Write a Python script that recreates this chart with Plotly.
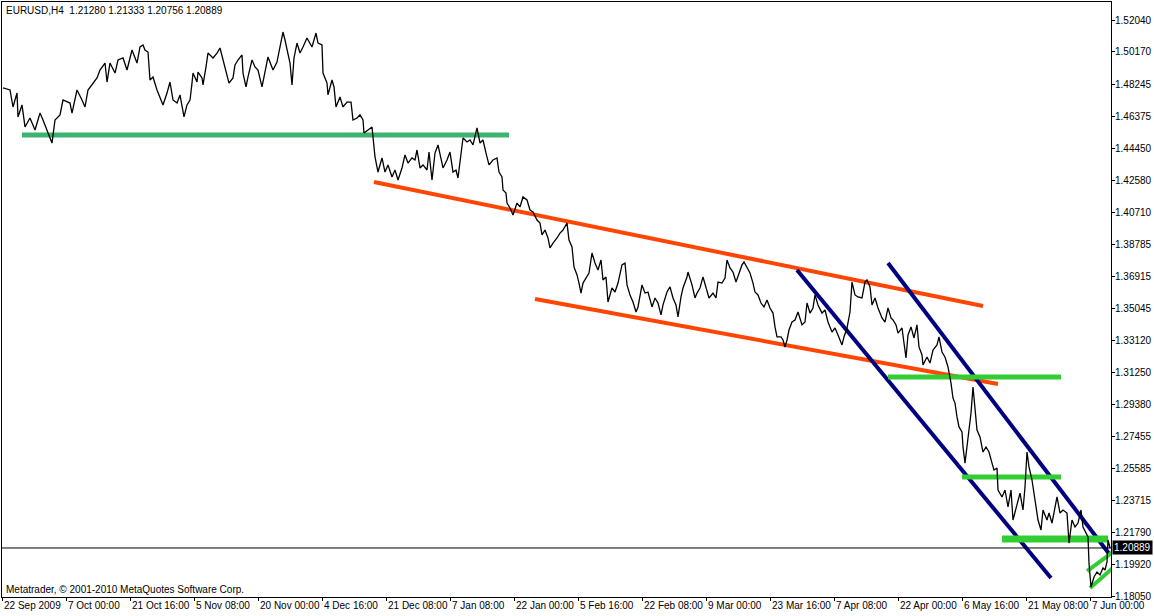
import plotly.graph_objects as go

# ---- price series (H4 closes, bar index along the time axis) ----
bars_a = [3, 8, 10, 13, 17, 18, 22, 25, 30, 35, 40, 43, 48, 52, 55, 60, 63, 70, 72, 77, 82, 85, 88, 93, 97, 100,
          105, 107, 110, 115, 118, 123, 127, 132, 135, 137, 140, 143, 145, 148, 150, 153, 157, 160, 163, 167, 170,
          173, 177, 180, 184]
close_a = [1.4803, 1.4797, 1.4791, 1.4691, 1.4773, 1.4632, 1.4703, 1.4573, 1.4626, 1.4555, 1.4655, 1.4614, 1.4543,
           1.4478, 1.4614, 1.4644, 1.4732, 1.4714, 1.4655, 1.4791, 1.4732, 1.4691, 1.4791, 1.4832, 1.4862, 1.4909,
           1.4950, 1.4838, 1.4950, 1.4891, 1.4968, 1.4980, 1.4909, 1.5027, 1.4986, 1.4950, 1.5045, 1.5057, 1.5027,
           1.5015, 1.4850, 1.4868, 1.4791, 1.4750, 1.4703, 1.4773, 1.4838, 1.4732, 1.4714, 1.4762, 1.4632]

bars_b = [187, 190, 192, 193, 197, 198, 202, 203, 206, 208, 213, 217, 220, 223, 227, 229, 233, 235, 238, 242, 243,
          246, 248, 252, 255, 258, 262, 265, 268, 273, 277, 280, 283, 285, 287, 290, 292, 294, 297, 300, 303, 307,
          312, 316, 318, 322, 323, 327, 328, 332, 334, 336, 340, 343, 347, 351, 353, 357, 360, 363, 364, 368, 372]
close_b = [1.4703, 1.4732, 1.4832, 1.4891, 1.4838, 1.4897, 1.4862, 1.4821, 1.4927, 1.5009, 1.4980, 1.5009, 1.5039,
           1.4968, 1.4891, 1.4832, 1.4862, 1.4939, 1.4968, 1.4998, 1.4891, 1.4809, 1.4868, 1.4968, 1.4927, 1.4909,
           1.4809, 1.4897, 1.4986, 1.4909, 1.4956, 1.5045, 1.5133, 1.5086, 1.5027, 1.4950, 1.4821, 1.4980, 1.5068,
           1.5009, 1.5045, 1.5098, 1.5045, 1.5127, 1.5068, 1.5057, 1.4891, 1.4832, 1.4762, 1.4850, 1.4809, 1.4691,
           1.4750, 1.4691, 1.4720, 1.4720, 1.4614, 1.4626, 1.4644, 1.4614, 1.4537, 1.4555, 1.4573]

bars_c = [375, 378, 382, 385, 388, 392, 395, 398, 402, 405, 408, 412, 415, 417, 420, 423, 427, 429, 432, 435, 438,
          441, 443, 447, 450, 453, 456, 458, 461, 463, 467, 470, 473, 477, 480, 483, 486, 489, 493, 497, 499, 502,
          503, 506, 507, 510, 513, 517, 520, 523, 527, 530, 533, 537, 540, 542, 545, 548, 550, 553, 557, 560, 563,
          567, 569, 572, 574, 577, 579, 581, 583, 587, 589, 592, 595, 598, 601]
close_c = [1.4396, 1.4307, 1.4390, 1.4307, 1.4349, 1.4278, 1.4319, 1.4260, 1.4331, 1.4408, 1.4360, 1.4390, 1.4378,
           1.4437, 1.4331, 1.4349, 1.4319, 1.4425, 1.4260, 1.4419, 1.4467, 1.4396, 1.4331, 1.4378, 1.4425, 1.4307,
           1.4319, 1.4272, 1.4419, 1.4508, 1.4484, 1.4496, 1.4467, 1.4567, 1.4478, 1.4496, 1.4419, 1.4349, 1.4378,
           1.4390, 1.4307, 1.4278, 1.4201, 1.4183, 1.4124, 1.4095, 1.4054, 1.4124, 1.4101, 1.4160, 1.4142, 1.4083,
           1.4071, 1.4024, 1.4006, 1.3936, 1.3965, 1.3918, 1.3859, 1.3888, 1.3918, 1.3947, 1.3965, 1.4006, 1.3906,
           1.3865, 1.3747, 1.3700, 1.3652, 1.3593, 1.3652, 1.3688, 1.3711, 1.3829, 1.3770, 1.3729, 1.3788]

bars_d = [603, 606, 608, 612, 615, 618, 622, 625, 627, 630, 633, 636, 638, 642, 645, 648, 652, 655, 658, 661, 663,
          667, 670, 673, 676, 678, 681, 683, 687, 688, 692, 695, 697, 700, 703, 706, 709, 713, 716, 718, 722, 725,
          727, 730, 733, 736, 739, 742, 744, 747, 750, 753, 755, 758, 761, 764, 767, 770, 773, 775, 777, 781, 783,
          785, 787, 789, 792, 795, 798]
close_d = [1.3670, 1.3688, 1.3540, 1.3623, 1.3599, 1.3652, 1.3759, 1.3770, 1.3641, 1.3582, 1.3540, 1.3481, 1.3511,
           1.3641, 1.3593, 1.3599, 1.3511, 1.3564, 1.3534, 1.3464, 1.3523, 1.3599, 1.3629, 1.3564, 1.3523, 1.3452,
           1.3570, 1.3623, 1.3688, 1.3717, 1.3641, 1.3564, 1.3593, 1.3623, 1.3688, 1.3629, 1.3564, 1.3593, 1.3564,
           1.3658, 1.3652, 1.3682, 1.3788, 1.3741, 1.3717, 1.3658, 1.3711, 1.3759, 1.3776, 1.3747, 1.3711, 1.3652,
           1.3599, 1.3582, 1.3534, 1.3511, 1.3552, 1.3505, 1.3475, 1.3393, 1.3334, 1.3334, 1.3316, 1.3275, 1.3316,
           1.3375, 1.3422, 1.3434, 1.3481]

bars_e = [802, 805, 807, 810, 813, 815, 818, 822, 825, 828, 832, 835, 838, 842, 844, 847, 850, 852, 855, 858, 862,
          865, 867, 870, 872, 875, 878, 882, 885, 888, 891, 893, 896, 898, 902, 904, 906, 908, 911, 914, 917, 919,
          922, 923, 927, 930, 933, 937, 939, 942, 945, 948]
close_e = [1.3405, 1.3422, 1.3534, 1.3475, 1.3505, 1.3582, 1.3523, 1.3475, 1.3493, 1.3422, 1.3363, 1.3387, 1.3346,
           1.3287, 1.3334, 1.3387, 1.3481, 1.3658, 1.3582, 1.3570, 1.3564, 1.3658, 1.3670, 1.3629, 1.3523, 1.3564,
           1.3505, 1.3446, 1.3422, 1.3505, 1.3446, 1.3434, 1.3405, 1.3357, 1.3387, 1.3304, 1.3210, 1.3346, 1.3393,
           1.3328, 1.3405, 1.3275, 1.3228, 1.3169, 1.3216, 1.3180, 1.3257, 1.3287, 1.3334, 1.3245, 1.3216, 1.3157]

bars_f = [951, 953, 955, 957, 959, 962, 963, 965, 967, 968, 971, 973, 975, 977, 980, 983, 986, 989, 992, 994, 997,
          998, 1002, 1005, 1008, 1011, 1013, 1017, 1020, 1023, 1025, 1027, 1029, 1032, 1033, 1036, 1038, 1041, 1043,
          1047, 1049, 1052, 1055, 1057, 1060, 1063, 1067, 1069, 1072, 1075, 1078, 1081, 1083, 1086, 1088, 1089,
          1091, 1094, 1097, 1100, 1103, 1105, 1107, 1108, 1110]
close_f = [1.3062, 1.2974, 1.2944, 1.2862, 1.2803, 1.2773, 1.2685, 1.2590, 1.2685, 1.2767, 1.2885, 1.3039, 1.2903,
           1.2785, 1.2744, 1.2655, 1.2685, 1.2655, 1.2590, 1.2549, 1.2561, 1.2431, 1.2390, 1.2431, 1.2331, 1.2431,
           1.2254, 1.2354, 1.2413, 1.2313, 1.2449, 1.2655, 1.2567, 1.2490, 1.2449, 1.2354, 1.2254, 1.2195, 1.2313,
           1.2254, 1.2295, 1.2236, 1.2343, 1.2390, 1.2295, 1.2313, 1.2295, 1.2118, 1.2254, 1.2213, 1.2236, 1.2313,
           1.2213, 1.2177, 1.2154, 1.2000, 1.1859, 1.1918, 1.1947, 1.1930, 1.1971, 1.1959, 1.2006, 1.2136, 1.20889]

# ---- drawn objects (bar index, price) ----
support_bars, support_price = [22, 509], [1.4526, 1.4526]
orange_upper_bars, orange_upper_price = [374, 983], [1.4248, 1.3517]
orange_lower_bars, orange_lower_price = [535, 998], [1.3558, 1.3056]
navy_lower_bars, navy_lower_price = [797, 1051], [1.3729, 1.1912]
navy_upper_bars, navy_upper_price = [888, 1110], [1.3770, 1.2048]
level1_bars, level1_price = [888, 1061], [1.3098, 1.3098]
level2_bars, level2_price = [962, 1061], [1.2508, 1.2508]
level3_bars, level3_price = [1002, 1108], [1.2142, 1.2142]
wedge_up_bars, wedge_up_price = [1087, 1113], [1.1953, 1.2065]
wedge_lo_bars, wedge_lo_price = [1090, 1113], [1.1853, 1.1971]

last_price = 1.20889
header = "EURUSD,H4\u00a0 1.21280 1.21333 1.20756 1.20889"
copyright_text = "Metatrader, © 2001-2010 MetaQuotes Software Corp."

# ---- axes ----
price_ticks = [1.52040, 1.50170, 1.48245, 1.46375, 1.44450, 1.42580, 1.40710, 1.38785, 1.36915, 1.35045,
               1.33120, 1.31250, 1.29380, 1.27455, 1.25585, 1.23715, 1.21790, 1.19920, 1.18050]
price_tick_text = [f"{v:.5f}" for v in price_ticks]
time_tick_bars = [2, 66, 130, 194, 258, 322, 386, 450, 514, 578, 642, 706, 770, 834, 898, 962, 1026, 1090]
time_tick_text = ["22 Sep 2009", "7 Oct 00:00", "21 Oct 16:00", "5 Nov 08:00", "20 Nov 00:00", "4 Dec 16:00",
                  "21 Dec 08:00", "7 Jan 08:00", "22 Jan 00:00", "5 Feb 16:00", "22 Feb 08:00", "9 Mar 00:00",
                  "23 Mar 16:00", "7 Apr 08:00", "22 Apr 00:00", "6 May 16:00", "21 May 08:00", "7 Jun 00:00"]

FONT = "Liberation Sans, Arial, sans-serif"

bars = bars_a + bars_b + bars_c + bars_d + bars_e + bars_f
close = close_a + close_b + close_c + close_d + close_e + close_f

fig = go.Figure()

objects = [
    (support_bars, support_price, "#3CB371", 5),
    (orange_upper_bars, orange_upper_price, "#FF4500", 4),
    (orange_lower_bars, orange_lower_price, "#FF4500", 4),
    (navy_lower_bars, navy_lower_price, "#000080", 4),
    (navy_upper_bars, navy_upper_price, "#000080", 4),
    (level1_bars, level1_price, "#32CD32", 5),
    (level2_bars, level2_price, "#32CD32", 5),
    (level3_bars, level3_price, "#32CD32", 7),
    (wedge_up_bars, wedge_up_price, "#32CD32", 4),
    (wedge_lo_bars, wedge_lo_price, "#32CD32", 4),
]
for xs, ys, col, w in objects:
    fig.add_trace(go.Scatter(x=xs, y=ys, mode="lines", line=dict(color=col, width=w),
                             hoverinfo="skip", showlegend=False))

fig.add_trace(go.Scatter(x=bars, y=close, mode="lines", line=dict(color="black", width=1.3),
                         hoverinfo="skip", showlegend=False))

fig.add_hline(y=last_price, line=dict(color="black", width=1))

annotations = [
    dict(text=header, xref="paper", yref="paper", x=0, y=1, xanchor="left", yanchor="top",
         xshift=2, yshift=-1, showarrow=False, font=dict(size=10, color="black", family=FONT)),
    dict(text=copyright_text, xref="paper", yref="paper", x=0, y=0, xanchor="left", yanchor="bottom",
         xshift=2, yshift=0, showarrow=False, font=dict(size=10, color="black", family=FONT)),
    dict(text=f"{last_price:.5f}", xref="paper", yref="y", x=1, y=last_price, xanchor="left",
         yanchor="middle", xshift=1, showarrow=False, bgcolor="black", borderpad=1,
         font=dict(size=10, color="white", family=FONT)),
]
for b, t in zip(time_tick_bars, time_tick_text):
    annotations.append(dict(text=t, xref="x", yref="paper", x=b, y=0, xanchor="left", yanchor="top",
                            yshift=-1, showarrow=False, font=dict(size=10, color="black", family=FONT)))

fig.update_layout(
    width=1154, height=616,
    margin=dict(l=2, r=43, t=2, b=19, pad=0),
    plot_bgcolor="white", paper_bgcolor="white",
    showlegend=False,
    annotations=annotations,
    xaxis=dict(range=[2, 1111], showgrid=False, zeroline=False, showline=True, linecolor="black",
               linewidth=1, mirror=True, ticks="outside", ticklen=3, tickcolor="black",
               tickvals=time_tick_bars, showticklabels=False, fixedrange=True),
    yaxis=dict(range=[1.17997, 1.53102], side="right", showgrid=False, zeroline=False, showline=True,
               linecolor="black", linewidth=1, mirror=True, ticks="outside", ticklen=3, tickcolor="black",
               tickvals=price_ticks, ticktext=price_tick_text, automargin=False, ticklabelstandoff=-2,
               tickfont=dict(size=10, color="black", family=FONT), fixedrange=True),
)

fig.write_html("out.html", config={"displayModeBar": False})

# remove the browser's default page margin so the figure sits at the window's top-left corner
with open("out.html", encoding="utf-8") as fh:
    page = fh.read()
page = page.replace("<body>", '<body style="margin:0;padding:0;overflow:hidden">', 1)
with open("out.html", "w", encoding="utf-8") as fh:
    fh.write(page)
